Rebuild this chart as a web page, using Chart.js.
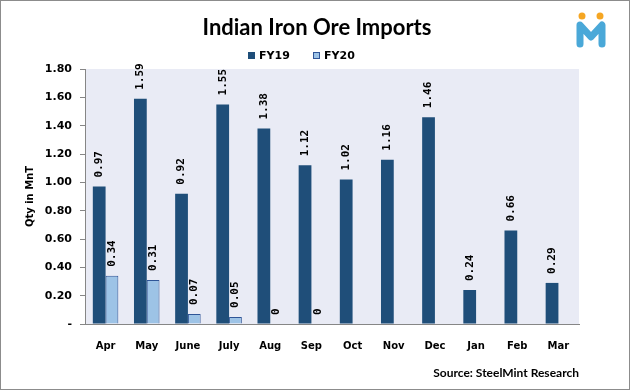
<!DOCTYPE html>
<html lang="en">
<head>
    <meta charset="UTF-8">
    <title>Indian Iron Ore Imports</title>
    <script src="https://cdn.jsdelivr.net/npm/chart.js"></script>
    <style>
        body {
            margin: 0;
            background: #fff;
        }
        .chart-box {
            width: 628px;
            height: 388px;
            border: 1px solid #8c8c8c;
        }
    </style>
</head>
<body>

<div class="chart-box">
    <canvas id="importsChart"></canvas>
</div>

<script>
    // data (million tonnes)
    const months = ['Apr', 'May', 'June', 'July', 'Aug', 'Sep', 'Oct', 'Nov', 'Dec', 'Jan', 'Feb', 'Mar'];
    const fy19 = [0.97, 1.59, 0.92, 1.55, 1.38, 1.12, 1.02, 1.16, 1.46, 0.24, 0.66, 0.29];
    const fy20 = [0.34, 0.31, 0.07, 0.05, 0, 0, null, null, null, null, null, null];
    const seriesNames = ['FY19', 'FY20'];
    const yTicksMax = 1.8;
    const yTicksStep = 0.2;

    const chartTitle = 'Indian Iron Ore Imports';
    const sourceNote = 'Source: SteelMint Research';

    // plot background + title, legend, source and logo
    const decorations = {
        id: 'decorations',
        beforeDraw(chart) {
            const a = chart.chartArea;
            const ctx = chart.ctx;
            ctx.save();
            ctx.fillStyle = '#e9ebf5';
            ctx.fillRect(a.left, a.top, a.right - a.left, a.bottom - a.top);
            ctx.restore();
        },
        afterDraw(chart) {
            const ctx = chart.ctx;
            ctx.save();

            // title
            ctx.fillStyle = '#000';
            ctx.font = 'bold 22px Lato';
            ctx.textAlign = 'center';
            ctx.textBaseline = 'middle';
            ctx.fillText(chartTitle, 316, 27);

            // legend
            ctx.font = 'bold 11px "DejaVu Sans"';
            ctx.textAlign = 'left';
            let lx = 247;
            chart.data.datasets.forEach(ds => {
                ctx.fillStyle = ds.backgroundColor;
                ctx.fillRect(lx, 51, 7, 7);
                ctx.strokeStyle = ds.borderColor;
                ctx.lineWidth = 1;
                ctx.strokeRect(lx + 0.5, 51.5, 6, 6);
                ctx.fillStyle = '#000';
                ctx.fillText(ds.label, lx + 11, 55);
                lx += 65;
            });

            // source note
            ctx.font = 'bold 12px Lato';
            ctx.textAlign = 'right';
            ctx.fillText(sourceNote, 578, 372);

            // logo
            ctx.fillStyle = '#f5a623';
            ctx.beginPath();
            ctx.arc(581, 15, 3.5, 0, Math.PI * 2);
            ctx.arc(599, 15, 3.5, 0, Math.PI * 2);
            ctx.fill();
            ctx.strokeStyle = '#4aa8d8';
            ctx.lineWidth = 7;
            ctx.lineCap = 'round';
            ctx.lineJoin = 'round';
            ctx.beginPath();
            ctx.moveTo(579, 43);
            ctx.lineTo(579, 24);
            ctx.lineTo(590, 36);
            ctx.lineTo(601, 24);
            ctx.lineTo(601, 43);
            ctx.stroke();

            ctx.restore();
        }
    };

    // rotated value labels above the bars
    const valueLabels = {
        id: 'valueLabels',
        afterDatasetsDraw(chart) {
            const ctx = chart.ctx;
            ctx.save();
            ctx.font = 'bold 11px "DejaVu Sans Mono"';
            ctx.fillStyle = '#000';
            ctx.textAlign = 'left';
            ctx.textBaseline = 'middle';
            chart.data.datasets.forEach((ds, i) => {
                chart.getDatasetMeta(i).data.forEach((bar, j) => {
                    const v = ds.data[j];
                    if (v === null || v === undefined) return;
                    ctx.save();
                    ctx.translate(bar.x, bar.y - 9);
                    ctx.rotate(-Math.PI / 2);
                    ctx.fillText(v === 0 ? '0' : v.toFixed(2), 0, 0);
                    ctx.restore();
                });
            });
            ctx.restore();
        }
    };

    const ctx = document.getElementById('importsChart').getContext('2d');
    new Chart(ctx, {
        type: 'bar',
        data: {
            labels: months,
            datasets: [{
                label: seriesNames[0],
                data: fy19,
                backgroundColor: '#1f4e79',
                borderColor: '#1f4e79',
                borderWidth: 0,
                categoryPercentage: 0.62,
                barPercentage: 1
            }, {
                label: seriesNames[1],
                data: fy20,
                backgroundColor: '#9dc3e6',
                borderColor: '#2f5597',
                borderWidth: 1,
                categoryPercentage: 0.62,
                barPercentage: 1
            }]
        },
        options: {
            responsive: true,
            maintainAspectRatio: false,
            animation: false,
            layout: {
                padding: { top: 68, left: 8, right: 50, bottom: 30 }
            },
            plugins: {
                legend: { display: false },
                title: { display: false },
                tooltip: { enabled: false }
            },
            scales: {
                x: {
                    afterFit(scale) { scale.height = 35; },
                    grid: { display: true, drawOnChartArea: false, drawTicks: false },
                    border: { color: '#868686', width: 1 },
                    ticks: {
                        padding: 16,
                        color: '#000',
                        font: { family: 'DejaVu Sans', size: 10, weight: 'bold' }
                    }
                },
                y: {
                    min: 0,
                    max: yTicksMax,
                    afterFit(scale) { scale.width = 76; },
                    grid: {
                        display: true,
                        drawOnChartArea: false,
                        drawTicks: true,
                        tickLength: 5,
                        color: '#868686'
                    },
                    border: { color: '#868686', width: 1 },
                    ticks: {
                        stepSize: yTicksStep,
                        padding: 8,
                        color: '#000',
                        font: { family: 'DejaVu Sans', size: 11, weight: 'bold' },
                        callback: v => v === 0 ? '-' : v.toFixed(2)
                    },
                    title: {
                        display: true,
                        text: 'Qty in MnT',
                        color: '#000',
                        padding: { top: 15, bottom: 0 },
                        font: { family: 'DejaVu Sans', size: 10, weight: 'bold' }
                    }
                }
            }
        },
        plugins: [decorations, valueLabels]
    });
</script>

</body>
</html>
